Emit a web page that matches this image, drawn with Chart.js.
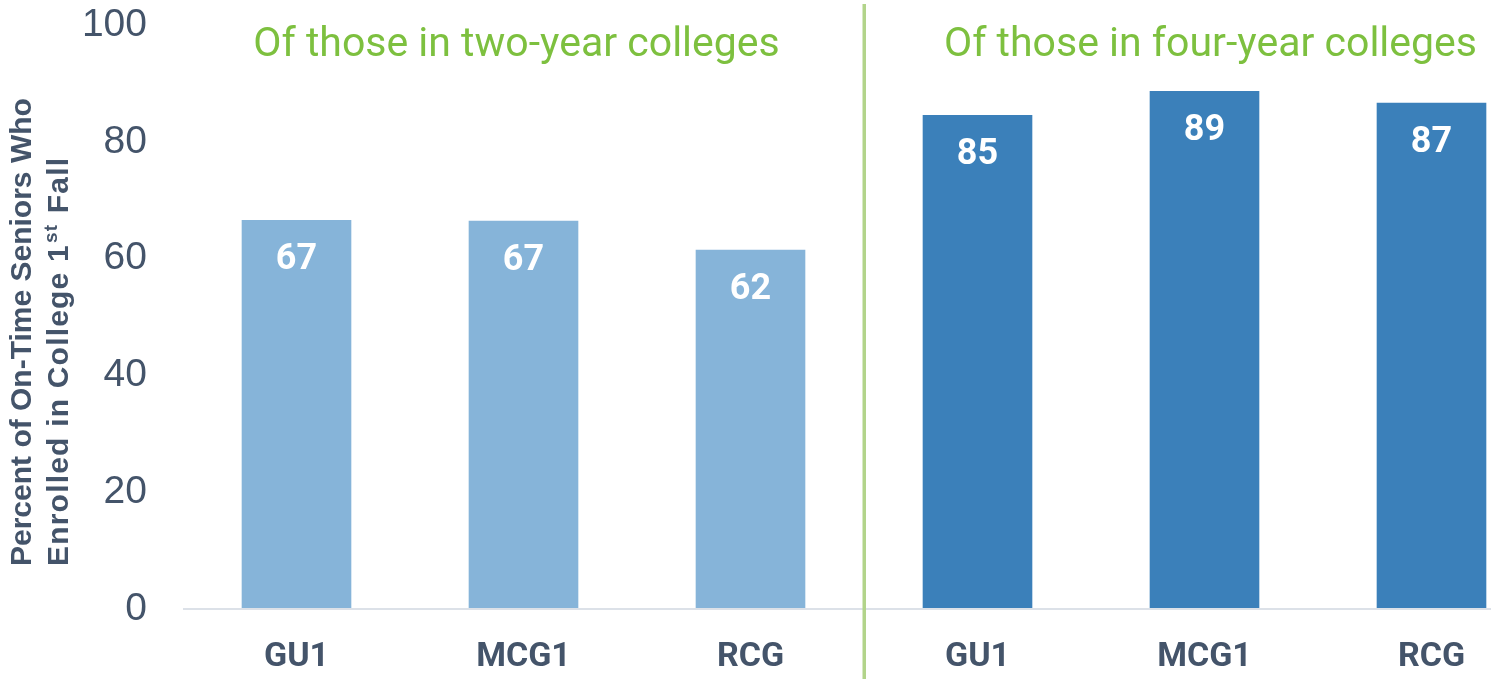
<!DOCTYPE html>
<html>
<head>
<meta charset="utf-8">
<script src="https://cdn.jsdelivr.net/npm/chart.js@4/dist/chart.umd.min.js"></script>
<style>
  html, body { margin: 0; padding: 0; background: #ffffff; overflow: hidden; }
  #wrap { width: 1560px; height: 679px; }
</style>
</head>
<body>
<div id="wrap"><canvas id="c" width="1560" height="679"></canvas></div>
<script>
// ---- data ----
const categories = ['GU1', 'MCG1', 'RCG', 'GU1', 'MCG1', 'RCG'];
const groupTitles = ['Of those in two-year colleges', 'Of those in four-year colleges'];
const twoYearValues = [66.6, 66.5, 61.5];
const fourYearValues = [84.6, 88.7, 86.7];
const yTicks = [0, 20, 40, 60, 80, 100];
const yTitleLine1 = 'Percent of On-Time Seniors Who';
const yTitleLine2 = ['Enrolled in College 1', 'st', ' Fall'];

const values = twoYearValues.concat(fourYearValues);
const LIGHT = '#86B4D9';
const DARK = '#3B80BA';
const colors = twoYearValues.map(() => LIGHT).concat(fourYearValues.map(() => DARK));
const TEXT = '#44546A';
const GREEN = '#7DC03F';

const overlay = {
  id: 'overlay',
  afterDatasetsDraw(chart) {
    const ctx = chart.ctx;
    const x = chart.scales.x;
    const meta = chart.getDatasetMeta(0);
    ctx.save();
    // value labels inside bars
    ctx.fillStyle = '#ffffff';
    ctx.font = 'bold 36px Roboto';
    ctx.textAlign = 'center';
    ctx.textBaseline = 'middle';
    meta.data.forEach((bar, i) => {
      ctx.fillText(String(Math.round(values[i])), bar.x, bar.y + 40);
    });
    // divider
    const n2 = twoYearValues.length;
    const divX = (x.getPixelForValue(n2 - 1) + x.getPixelForValue(n2)) / 2;
    ctx.fillStyle = '#B2D48A';
    ctx.fillRect(divX - 1.5, 4, 3.5, chart.height);
    // group titles
    ctx.fillStyle = GREEN;
    ctx.font = '41px Roboto';
    ctx.textBaseline = 'alphabetic';
    const c1 = (x.getPixelForValue(0) + x.getPixelForValue(n2 - 1)) / 2;
    const c2 = (x.getPixelForValue(n2) + x.getPixelForValue(categories.length - 1)) / 2;
    ctx.fillText(groupTitles[0], c1 - 7, 56);
    ctx.fillText(groupTitles[1], c2 + 6, 56);
    // y axis title
    ctx.fillStyle = TEXT;
    ctx.translate(0, 566);
    ctx.rotate(-Math.PI / 2);
    ctx.textAlign = 'left';
    ctx.font = 'bold 30px "Liberation Sans", Arial';
    ctx.fillText(yTitleLine1, 0, 31);
    if ('letterSpacing' in ctx) ctx.letterSpacing = '1.2px';
    let px = 0;
    ctx.fillText(yTitleLine2[0], px, 68);
    px += ctx.measureText(yTitleLine2[0]).width;
    ctx.font = 'bold 19px "Liberation Sans", Arial';
    ctx.fillText(yTitleLine2[1], px + 1, 57);
    px += ctx.measureText(yTitleLine2[1]).width + 2;
    ctx.font = 'bold 30px "Liberation Sans", Arial';
    ctx.fillText(yTitleLine2[2], px, 68);
    ctx.restore();
  }
};

new Chart(document.getElementById('c'), {
  type: 'bar',
  data: {
    labels: categories,
    datasets: [{
      data: values,
      backgroundColor: colors,
      borderWidth: 0,
      barPercentage: 0.69,
      categoryPercentage: 0.7
    }]
  },
  options: {
    responsive: false,
    animation: false,
    devicePixelRatio: 1,
    layout: { padding: { top: 25, right: 15, left: 0, bottom: 0 } },
    plugins: { legend: { display: false }, tooltip: { enabled: false }, title: { display: false } },
    scales: {
      x: {
        grid: { display: false, drawTicks: false },
        border: { display: false },
        ticks: { color: TEXT, font: { family: 'Roboto', weight: 'bold', size: 34 }, padding: 28 },
        afterFit(s) { s.height = 70; s.paddingLeft = 0; s.paddingRight = 0; }
      },
      y: {
        min: 0, max: 100,
        afterBuildTicks(s) { s.ticks = yTicks.map(v => ({ value: v })); },
        grid: {
          drawTicks: false,
          lineWidth: 2,
          color: (c) => (c.tick && c.tick.value === 0 ? '#DCE1E8' : 'rgba(0,0,0,0)')
        },
        border: { display: false },
        ticks: { color: TEXT, font: { family: '"Liberation Sans", Arial', size: 39 }, padding: 36 },
        afterFit(s) { s.width = 183; s.paddingTop = 0; s.paddingBottom = 0; }
      }
    }
  },
  plugins: [overlay]
});
</script>
</body>
</html>
